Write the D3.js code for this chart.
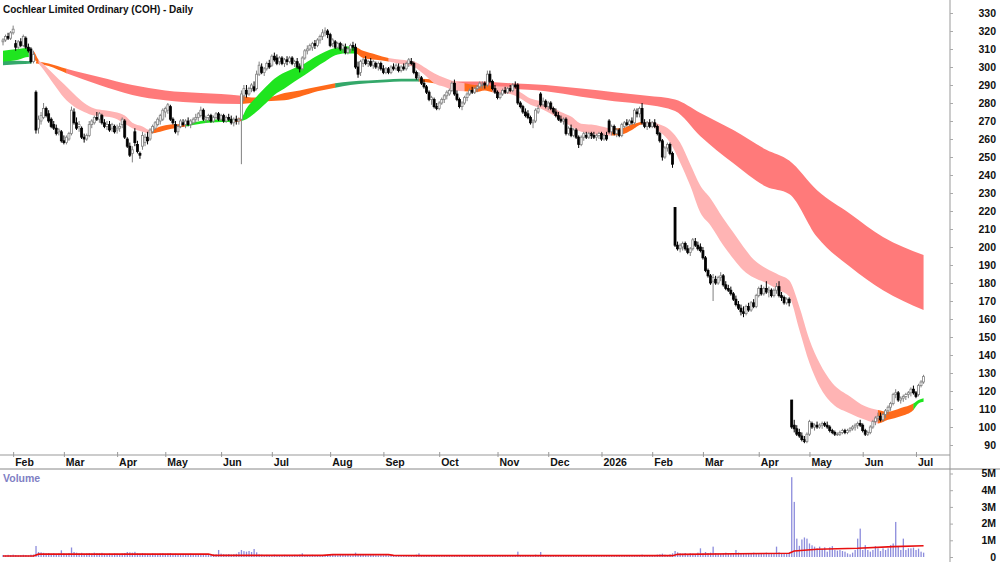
<!DOCTYPE html>
<html>
<head>
<meta charset="utf-8">
<script src="https://cdn.jsdelivr.net/npm/d3@7"></script>
<style>
  body { margin: 0; background: #fff; }
  svg { display: block; font-family: Arial, "Liberation Sans", sans-serif; }
  .lbl { font-size: 10.5px; font-weight: bold; fill: #111; }
</style>
</head>
<body>
<div id="chart"></div>
<script>

var title = "Cochlear Limited Ordinary (COH) - Daily";
var firstDay = "2025-01-28";
var holidays = ["2025-04-18", "2025-04-21", "2025-04-25", "2025-06-09", "2025-12-25", "2025-12-26",
                "2026-01-01", "2026-01-26", "2026-04-03", "2026-04-06", "2026-06-08"];

// daily candles: [open, high, low, close]
var ohlc = [
  [314,316,312,315],[315,318,314,317],[317,319,315,316],[316,320,315,319],[319,323,318,321],[313,315,309,311],[311,315,310,314],[314,316,311,312],[312,318,311,317],[316,317,310,311],
  [311,313,308,309],[310,311,302,303],[303,309,302,307],[286,287,263,265],[266,273,263,271],[270,275,268,273],[272,280,271,277],[277,278,272,273],[274,276,269,270],[271,272,266,267],
  [268,270,265,266],[266,268,262,263],[264,266,262,265],[264,265,258,259],[259,262,257,258],[258,262,257,261],[260,264,259,263],[263,278,262,276],[275,277,268,269],[269,272,265,266],
  [267,270,264,268],[266,267,260,261],[261,263,258,260],[260,263,259,262],[262,270,261,268],[268,271,266,270],[269,273,268,272],[272,275,270,271],[271,275,269,274],[273,274,268,269],
  [269,271,266,267],[267,270,265,268],[268,270,264,265],[266,269,264,268],[267,268,263,264],[265,268,263,266],[266,269,264,267],[268,272,266,271],[270,271,260,261],[260,261,255,256],
  [256,258,250,251],[252,256,247,254],[264,266,256,258],[257,259,252,253],[252,253,249,251],[256,264,254,262],[258,263,256,261],[261,264,257,259],[260,266,259,265],[264,268,263,267],
  [266,270,265,269],[268,272,267,271],[270,274,268,273],[271,277,270,276],[275,278,272,277],[276,280,274,279],[278,279,270,271],[271,272,268,269],[268,270,263,264],[264,268,262,267],
  [267,271,266,270],[269,271,267,268],[268,271,266,270],[270,272,267,268],[268,271,266,270],[269,272,268,271],[271,274,269,272],[272,275,270,274],[273,278,272,276],[276,277,270,271],
  [271,273,269,272],[272,274,270,273],[273,274,269,270],[270,273,269,272],[272,275,271,274],[274,275,270,271],[271,274,270,273],[273,274,269,270],[270,273,269,272],[272,274,270,271],
  [271,273,268,269],[269,272,267,271],[271,273,268,270],[270,272,268,271],[271,287,246,285],[284,290,281,288],[287,290,283,285],[285,289,284,288],[288,291,286,290],[289,292,286,287],
  [288,298,287,296],[296,303,295,301],[300,302,296,297],[297,300,295,299],[299,303,298,302],[302,304,299,300],[301,307,300,306],[306,308,303,304],[305,307,301,302],[303,306,301,305],
  [305,306,301,302],[302,305,300,304],[304,306,301,303],[303,306,302,305],[305,306,301,302],[302,304,300,303],[303,305,299,300],[300,302,297,299],[299,306,298,305],[305,310,304,309],
  [309,312,307,310],[310,313,309,312],[311,314,309,313],[313,315,310,312],[312,316,311,315],[315,318,313,317],[317,321,315,319],[319,322,317,320],[320,321,316,318],[318,319,311,312],
  [313,316,311,315],[314,315,310,311],[311,314,310,313],[313,314,309,310],[310,313,308,312],[311,313,307,308],[308,311,307,310],[310,313,308,312],[312,314,309,311],[311,313,299,300],
  [300,303,294,296],[297,304,295,303],[302,305,300,304],[304,306,301,302],[302,304,300,303],[303,305,300,301],[301,304,299,303],[302,303,299,300],[300,303,298,302],[302,303,298,299],
  [299,301,296,297],[297,300,296,299],[299,300,296,297],[297,301,296,300],[300,302,298,299],[299,302,298,301],[300,302,297,298],[298,301,297,300],[300,302,298,299],[299,303,298,302],
  [302,305,300,304],[303,305,301,302],[302,303,296,297],[297,298,293,294],[294,297,292,295],[294,295,290,291],[291,293,288,289],[289,290,285,286],[286,287,281,282],[282,284,279,283],
  [282,283,277,278],[278,280,276,277],[277,281,276,280],[280,283,279,282],[282,285,280,284],[284,287,282,286],[285,288,284,287],[287,292,286,291],[291,293,284,285],[285,287,281,282],
  [282,283,277,278],[278,281,276,280],[280,284,279,283],[283,286,281,285],[285,288,284,287],[287,289,285,286],[286,289,285,288],[288,290,286,289],[289,292,288,291],[290,292,288,290],
  [291,292,288,290],[290,298,289,296],[296,298,291,292],[292,293,287,288],[288,290,285,286],[286,287,282,283],[283,286,282,285],[285,288,284,287],[287,289,285,286],[286,289,285,288],
  [288,290,286,287],[287,291,286,290],[290,292,288,289],[290,291,279,280],[280,281,277,278],[278,279,274,275],[275,277,272,273],[274,276,271,272],[272,273,268,269],[269,271,266,270],
  [270,277,269,276],[275,279,274,277],[285,286,278,279],[279,283,278,281],[281,282,277,278],[278,281,276,280],[280,281,276,277],[277,278,274,275],[275,277,272,273],[273,275,270,271],
  [271,273,269,270],[270,272,268,271],[271,272,262,263],[263,267,262,266],[266,268,261,262],[262,266,261,265],[265,266,260,261],[261,262,255,257],[257,262,256,261],[261,264,259,263],
  [262,264,260,261],[261,264,260,263],[263,264,260,262],[262,264,260,261],[261,263,259,262],[262,264,260,263],[263,264,259,260],[260,263,259,262],[262,264,259,260],[270,271,263,264],
  [264,268,262,267],[267,268,262,263],[263,266,261,265],[265,266,261,262],[262,269,261,268],[267,270,266,269],[269,271,267,268],[268,271,267,270],[270,272,268,269],[269,277,268,276],
  [275,277,272,274],[274,278,272,277],[277,280,268,269],[269,271,266,267],[267,270,265,269],[269,271,266,267],[267,270,266,269],[269,271,266,267],[267,268,262,263],[263,264,258,259],
  [259,260,248,250],[250,256,249,255],[255,258,253,257],[257,258,251,252],[252,253,244,246],[222,222,200,201],[201,203,198,199],[199,202,197,201],[200,203,198,202],[202,203,198,199],
  [199,201,196,197],[197,200,195,199],[199,205,198,204],[203,205,200,201],[201,203,198,199],[200,202,197,198],[198,200,193,194],[194,195,186,187],[187,188,183,184],[184,185,179,180],
  [181,185,170,183],[182,184,179,180],[180,184,179,183],[183,186,181,184],[184,185,178,179],[179,181,176,177],[177,179,175,176],[176,178,173,174],[174,175,170,171],[171,173,167,168],
  [168,170,165,166],[166,168,162,164],[164,167,161,163],[163,168,162,167],[167,169,164,165],[165,170,164,169],[169,171,166,167],[167,174,166,173],[173,178,172,177],[177,179,173,174],
  [174,178,173,177],[177,181,174,175],[175,178,172,176],[176,177,172,173],[173,177,172,176],[176,180,174,178],[178,181,172,173],[173,175,170,172],[172,173,168,169],[169,172,168,171],
  [171,172,167,169],[115,115,99,100],[101,104,97,99],[99,101,95,96],[97,99,94,95],[95,97,92,93],[93,95,91,92],[92,97,91,96],[96,104,95,103],[102,103,99,100],
  [100,102,98,101],[101,103,99,100],[100,102,99,101],[101,103,99,102],[102,103,100,101],[101,103,99,100],[100,101,97,98],[98,99,96,97],[97,98,95,96],[96,97,95,96],
  [96,98,95,97],[97,99,96,98],[98,99,96,97],[97,99,96,98],[98,100,97,99],[99,101,98,100],[100,102,98,101],[101,103,99,102],[102,104,100,101],[101,102,97,98],
  [98,99,95,96],[96,98,95,97],[97,101,96,100],[100,104,99,103],[103,106,101,105],[105,108,103,106],[106,108,103,104],[104,108,103,107],[107,110,105,109],[109,112,107,111],
  [111,114,109,113],[113,119,112,118],[118,121,116,119],[119,120,114,115],[115,117,113,116],[116,118,114,117],[117,119,115,118],[118,120,116,119],[119,122,117,121],[121,123,118,119],
  [119,120,116,117],[118,124,117,123],[123,126,122,125],[125,129,124,128]
];

// daily volume, millions of shares
var volumes = [
  0.12,0.10,0.13,0.11,0.14,0.12,0.10,0.11,0.13,0.12, 0.10,0.14,0.15,0.66,0.30,0.28,0.25,0.22,0.24,0.20,
  0.22,0.19,0.21,0.40,0.22,0.20,0.24,0.57,0.30,0.26, 0.22,0.25,0.20,0.22,0.24,0.21,0.26,0.23,0.22,0.25,
  0.20,0.18,0.21,0.19,0.22,0.20,0.18,0.21,0.24,0.30, 0.28,0.26,0.31,0.22,0.20,0.24,0.21,0.19,0.18,0.22,
  0.20,0.19,0.21,0.23,0.20,0.22,0.24,0.19,0.20,0.18, 0.17,0.19,0.16,0.18,0.20,0.17,0.15,0.18,0.19,0.17,
  0.16,0.18,0.15,0.17,0.16,0.42,0.20,0.17,0.16,0.18, 0.15,0.17,0.19,0.30,0.42,0.35,0.32,0.36,0.30,0.48,
  0.28,0.16,0.14,0.12,0.13,0.11,0.12,0.14,0.10,0.12, 0.11,0.13,0.12,0.10,0.11,0.13,0.12,0.14,0.22,0.12,
  0.11,0.10,0.13,0.12,0.11,0.10,0.12,0.11,0.13,0.15, 0.12,0.11,0.10,0.12,0.13,0.11,0.12,0.10,0.11,0.26,
  0.18,0.14,0.12,0.11,0.10,0.12,0.11,0.10,0.09,0.11, 0.10,0.12,0.09,0.10,0.08,0.10,0.09,0.11,0.08,0.10,
  0.12,0.10,0.11,0.14,0.22,0.10,0.09,0.11,0.10,0.12, 0.09,0.10,0.08,0.11,0.09,0.10,0.08,0.09,0.10,0.08,
  0.11,0.09,0.10,0.08,0.09,0.07,0.10,0.08,0.09,0.11, 0.08,0.10,0.09,0.12,0.08,0.09,0.10,0.08,0.09,0.07,
  0.08,0.10,0.09,0.32,0.12,0.10,0.09,0.08,0.10,0.09, 0.14,0.11,0.30,0.10,0.09,0.08,0.09,0.10,0.08,0.09,
  0.08,0.09,0.12,0.08,0.09,0.07,0.08,0.11,0.09,0.08, 0.07,0.08,0.09,0.07,0.08,0.07,0.09,0.08,0.07,0.12,
  0.09,0.08,0.07,0.09,0.08,0.10,0.08,0.09,0.08,0.12, 0.10,0.09,0.14,0.09,0.08,0.10,0.09,0.12,0.14,0.16,
  0.20,0.14,0.12,0.16,0.22,0.36,0.28,0.22,0.20,0.24, 0.18,0.22,0.20,0.16,0.26,0.52,0.22,0.30,0.24,0.26,
  0.62,0.24,0.20,0.18,0.22,0.26,0.20,0.18,0.24,0.42, 0.26,0.22,0.20,0.18,0.24,0.20,0.26,0.22,0.24,0.20,
  0.22,0.26,0.20,0.24,0.22,0.62,0.28,0.22,0.20,0.24, 0.26,4.78,3.30,1.10,0.67,1.05,1.17,1.10,0.81,0.70,
  0.62,0.52,0.62,0.48,0.58,0.32,0.58,0.65,0.42,0.38, 0.42,0.36,0.32,0.22,0.16,0.26,0.42,1.10,1.70,0.42,
  0.71,0.42,0.32,0.42,0.65,0.52,0.36,0.52,0.42,0.52, 0.71,0.81,2.10,0.62,0.42,1.10,0.42,0.52,0.52,0.56,
  0.42,0.50,0.32,0.26
];

// volume average line: [day index, millions]
var volAvg = [[0,0.06],[12,0.06],[14,0.17],[81,0.18],[83,0.10],[126,0.10],[130,0.14],[152,0.14],[154,0.10],
  [164,0.08],[264,0.08],[266,0.16],[310,0.22],[312,0.36],[321,0.46],[337,0.52],[351,0.62],[363,0.67]];

// short-term moving average band (day index, upper, lower) and trend runs
var shortDays  = [0,6,10,12,14,16,20,24,28,32,36,40,44,48,51,55,58,62,66,72,78,86,91,94,96,99,103,107,111,115,119,123,127,131,135,139,142,147,152,157,162,166,170,174,178,182,186,190,193,200,204,208,212,216,220,224,228,232,236,240,244,248,252,256,259,263,267,271,275,279,284,288,292,296,301,306,310,314,318,322,327,334,340,345,349,354,359,361,363];
var shortUpper = [309,310,310.5,309,304,301.5,296,290.5,285,280,277,276,275,273,269,267,265,267,268,268.5,270,271,271,272,277,282,288,293.5,297,299.5,302,305.5,308.5,310.5,311.5,311,309,307,305,304,303,300,296.5,294,292,291,290,290,289.5,289,286,282.5,281,278,275,272.5,268.5,268,267,266,266,268,269.5,269.5,268,265,258,246,234,227,216,208,200,193,188,184.5,181.5,167,148.5,135.5,124.5,117,111.5,109.5,108.5,110.5,113,115,116];
var shortLower = [303,304,305.5,304.5,302,298.5,290.5,283,278,275,273,272.5,271.5,268.5,266,264,263,264,265.5,267,268.5,269.5,269.5,270,271,274,279,284.5,288,292,295.5,299.5,303,306.5,307.5,307.5,305,304,303,301.5,300,296,291,289,287,286.5,286,287,286,285,282.5,279,277,274,270.5,267,264,263,262,262,262.5,265,268,267,264,258,247,234,219,212,201,193.5,187,183,180,176,172.5,154,135.5,122.5,113,107.5,104,102,104,106,109.5,113,114];
var shortRuns = [[0,12,"up"],[12,14,"mix"],[14,58,"down"],[58,72,"mix"],[72,91,"up"],[91,94,"mix"],[94,139,"up"],
  [139,152,"mix"],[152,182,"down"],[182,193,"mix"],[193,240,"down"],[240,252,"mix"],[252,345,"down"],[345,359,"mix"],[359,363,"up"]];

// long-term moving average band
var longDays  = [0,6,13,18,25,38,51,64,78,94,98,104,111,117,124,131,137,144,151,157,164,170,177,183,188,200,214,228,241,254,265,275,288,301,310,321,334,347,363];
var longUpper = [303.5,303.5,303,302,299,294.5,290,287,285.5,284,283,283,285.5,287,289,291,292,292.5,293,293.5,293.5,293,292,292,292,291,290,288,286,284,282,274.5,265,254,248,231.5,218.5,205.5,195.5];
var longLower = [301,301.5,302,300.5,296.5,290,284.5,281.5,280,279.5,280,281,281.5,283.5,286.5,288.5,290,291,291.5,292,292,291,290,289.5,289.5,288,286.5,283.5,281,279,275.5,261.5,246.5,233.5,229.5,205.5,189,176,165];
var longRuns = [[0,13,"up"],[13,25,"mix"],[25,94,"down"],[94,131,"mix"],[131,164,"up"],[164,170,"mix"],[170,363,"down"]];

var priceTicks = d3.range(90, 331, 10);
var volTicks = [0, 1, 2, 3, 4, 5];

var w = 1000, h = 562;
var axisX = 950, priceBottom = 455, stripBottom = 469;
var dayStep = 2.536;

var svg = d3.select("#chart").append("svg")
    .attr("width", w)
    .attr("height", h);

// trading calendar
var parse = d3.timeParse("%Y-%m-%d"), fmt = d3.timeFormat("%Y-%m-%d");
var n = Math.min(ohlc.length, volumes.length);
var dates = [];
var cur = parse(firstDay);
while (dates.length < n) {
    var dow = cur.getDay();
    if (dow != 0 && dow != 6 && holidays.indexOf(fmt(cur)) < 0) dates.push(new Date(cur));
    cur = d3.timeDay.offset(cur, 1);
}

var x = d3.scaleLinear().domain([0, n - 1]).range([3, 3 + (n - 1) * dayStep]);
var y = d3.scaleLinear().domain([90, 330]).range([445, 13]);
var yVol = d3.scaleLinear().domain([0, 5]).range([557, 473.5]);

var colors = {
    short: {up: "#1fe51f", mix: "#ff6a1a", down: "#ffb4b4"},
    long: {up: "#34a86a", mix: "#ff6a1a", down: "#ff7a7a"}
};

var defs = svg.append("defs");
defs.append("clipPath").attr("id", "priceClip")
    .append("rect").attr("x", 0).attr("y", 0).attr("width", axisX).attr("height", priceBottom);

var price = svg.append("g").attr("clip-path", "url(#priceClip)");

// bands: one smooth shape per band, coloured by trend runs through x clips
function drawBand(name, days, upper, lower, runs) {
    var pts = days.map(function(d, i) { return [d, upper[i], lower[i]]; });
    var area = d3.area()
        .x(function(d) { return x(d[0]); })
        .y0(function(d) { return y(d[2]); })
        .y1(function(d) { return y(d[1]); })
        .curve(d3.curveMonotoneX);
    runs.forEach(function(r, k) {
        var id = name + "Run" + k;
        defs.append("clipPath").attr("id", id)
            .append("rect")
            .attr("x", x(r[0]) - (k == 0 ? 5 : 0))
            .attr("width", x(r[1]) - x(r[0]) + (k == runs.length - 1 ? 5 : 0.4))
            .attr("y", 0).attr("height", priceBottom);
        price.append("path")
            .attr("d", area(pts))
            .attr("fill", colors[name][r[2]])
            .attr("clip-path", "url(#" + id + ")");
    });
}
drawBand("long", longDays, longUpper, longLower, longRuns);
drawBand("short", shortDays, shortUpper, shortLower, shortRuns);

// candles
var candles = price.selectAll("g.candle")
    .data(ohlc.slice(0, n))
    .enter()
    .append("g")
    .attr("class", "candle");

candles.append("line")
    .attr("x1", function(d, i) { return x(i); })
    .attr("x2", function(d, i) { return x(i); })
    .attr("y1", function(d) { return y(d[1]); })
    .attr("y2", function(d) { return y(d[2]); })
    .attr("stroke", function(d) { return d[3] >= d[0] ? "#808080" : "#000"; })
    .attr("stroke-width", 1);

candles.append("rect")
    .attr("x", function(d, i) { return x(i) - 1; })
    .attr("width", 2)
    .attr("y", function(d) { return y(Math.max(d[0], d[3])); })
    .attr("height", function(d) { return Math.max(0.6, Math.abs(y(d[0]) - y(d[3]))); })
    .attr("fill", function(d) { return d[3] >= d[0] ? "#fff" : "#000"; })
    .attr("stroke", function(d) { return d[3] >= d[0] ? "#808080" : "#000"; })
    .attr("stroke-width", 0.8);

// volume
svg.append("g").selectAll("rect")
    .data(volumes.slice(0, n))
    .enter()
    .append("rect")
    .attr("x", function(d, i) { return x(i) - 0.6; })
    .attr("width", 1.3)
    .attr("y", function(d) { return yVol(d); })
    .attr("height", function(d) { return yVol(0) - yVol(d); })
    .attr("fill", "#8c8cdc");

svg.append("path")
    .datum(volAvg)
    .attr("d", d3.line()
        .x(function(d) { return x(d[0]); })
        .y(function(d) { return yVol(d[1]); }))
    .attr("fill", "none")
    .attr("stroke", "#e81010")
    .attr("stroke-width", 1.6);

// frame lines
svg.append("line").attr("x1", 0).attr("x2", axisX).attr("y1", priceBottom).attr("y2", priceBottom)
    .attr("stroke", "#999");
svg.append("line").attr("x1", 0).attr("x2", w).attr("y1", stripBottom).attr("y2", stripBottom)
    .attr("stroke", "#888");
svg.append("line").attr("x1", axisX).attr("x2", axisX).attr("y1", 0).attr("y2", h)
    .attr("stroke", "#999");

// month axis
var monthIdx = [];
for (var i = 1; i < dates.length; i++) {
    if (dates[i].getMonth() != dates[i - 1].getMonth()) monthIdx.push(i);
}
var xAxis = d3.axisBottom(x)
    .tickValues(monthIdx)
    .tickSizeInner(-3)
    .tickSizeOuter(0)
    .tickFormat(function(i) {
        var d = dates[i];
        return d.getMonth() == 0 ? d3.timeFormat("%Y")(d) : d3.timeFormat("%b")(d);
    });
var gx = svg.append("g")
    .attr("transform", "translate(0," + priceBottom + ")")
    .call(xAxis);
gx.select(".domain").remove();
gx.selectAll(".tick line").attr("stroke", "#999").attr("y1", 2);
gx.selectAll(".tick text")
    .attr("class", "lbl")
    .attr("text-anchor", "start")
    .attr("x", 1.5)
    .attr("y", 11)
    .attr("dy", 0);

// price axis
var yAxis = d3.axisRight(y).tickValues(priceTicks).tickSize(3).tickFormat(d3.format("d"));
var gy = svg.append("g")
    .attr("transform", "translate(" + axisX + ",0)")
    .call(yAxis);
gy.select(".domain").remove();
gy.selectAll(".tick line").attr("stroke", "#aaa");
gy.selectAll(".tick text")
    .attr("class", "lbl")
    .attr("text-anchor", "end")
    .attr("x", 46);

// volume axis
var vAxis = d3.axisRight(yVol).tickValues(volTicks).tickSize(3)
    .tickFormat(function(v) { return v == 0 ? "0" : v + "M"; });
var gv = svg.append("g")
    .attr("transform", "translate(" + axisX + ",0)")
    .call(vAxis);
gv.select(".domain").remove();
gv.selectAll(".tick line").attr("stroke", "#aaa");
gv.selectAll(".tick text")
    .attr("class", "lbl")
    .attr("text-anchor", "end")
    .attr("x", 46);

// titles
svg.append("text")
    .attr("x", 3)
    .attr("y", 13)
    .attr("textLength", 190)
    .attr("lengthAdjust", "spacingAndGlyphs")
    .style("font-size", "11px")
    .style("font-weight", "bold")
    .style("fill", "#111")
    .text(title);

svg.append("text")
    .attr("x", 3)
    .attr("y", 482)
    .style("font-size", "10.5px")
    .style("font-weight", "bold")
    .style("fill", "#8080c4")
    .text("Volume");

</script>
</body>
</html>
